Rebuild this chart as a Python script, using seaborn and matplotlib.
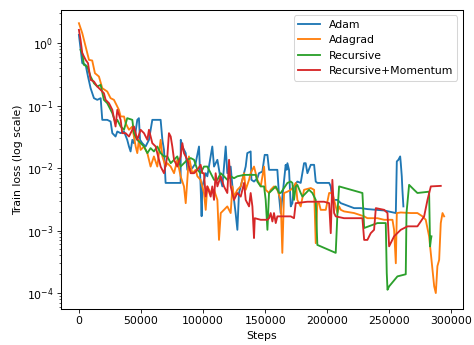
import matplotlib
matplotlib.use("Agg")
import matplotlib.pyplot as plt
import seaborn as sns
import pandas as pd

series_names = ["Adam", "Adagrad", "Recursive", "Recursive+Momentum"]

adam = [
    (0, 1.359), (2700, 0.479), (5400, 0.450), (7300, 0.293), (9400, 0.1905), (12100, 0.1318),
    (14800, 0.1240), (17500, 0.1318), (18800, 0.0593), (22800, 0.0593), (25500, 0.0558),
    (26900, 0.0363), (29500, 0.0321), (30900, 0.0386), (33600, 0.0363), (36300, 0.0386),
    (38900, 0.0284), (40300, 0.0222), (41600, 0.0185), (43000, 0.0284), (44300, 0.0251),
    (47000, 0.0593), (48300, 0.0631), (49200, 0.0284), (51000, 0.0251), (53700, 0.0222),
    (56400, 0.0284), (59100, 0.0593), (65800, 0.0593), (67200, 0.0284), (68500, 0.0196),
    (69800, 0.0058), (81900, 0.0058), (82000, 0.0284), (83300, 0.0222), (86000, 0.0174),
    (87300, 0.0094), (91300, 0.0100), (94000, 0.0120), (96700, 0.0222), (98000, 0.0051),
    (98800, 0.0017), (99400, 0.0051), (102100, 0.0083), (103400, 0.0074), (107400, 0.0222),
    (108800, 0.0106), (111500, 0.0136), (114200, 0.0065), (115500, 0.0051), (118200, 0.0222),
    (119500, 0.0083), (122200, 0.0106), (123600, 0.0051), (126200, 0.0019), (127600, 0.00103),
    (128900, 0.0040), (131600, 0.0065), (134300, 0.0106), (135600, 0.0174), (138300, 0.0185),
    (138900, 0.0065), (141000, 0.0061), (143700, 0.0069), (145000, 0.0083), (147700, 0.0088),
    (149600, 0.0163), (151800, 0.0163), (153100, 0.0094), (159800, 0.0094), (161200, 0.0035),
    (162500, 0.0019), (166500, 0.0113), (167300, 0.0094), (167900, 0.0120), (169200, 0.0094),
    (170600, 0.00244), (171900, 0.00275), (173200, 0.0051), (175900, 0.0061), (178600, 0.0058),
    (181300, 0.0120), (182600, 0.0120), (184000, 0.0083), (186700, 0.0113), (189400, 0.0113),
    (190700, 0.0061), (192000, 0.0058), (201500, 0.0058), (202800, 0.0051), (204100, 0.0031),
    (208200, 0.0031), (210900, 0.00275), (221600, 0.00229), (227000, 0.00229), (232300, 0.00221),
    (245800, 0.00210), (255200, 0.00191), (256000, 0.0128), (257300, 0.0136), (258700, 0.0154),
    (259200, 0.0120), (260000, 0.0074), (260500, 0.0045), (261300, 0.00244),
]

adagrad = [
    (0, 2.09), (2700, 1.445), (5400, 0.884), (8100, 0.541), (10700, 0.528), (12900, 0.331),
    (16100, 0.293), (18800, 0.1905), (22800, 0.1685), (25500, 0.1318), (28200, 0.1240),
    (32200, 0.0858), (33600, 0.0671), (36300, 0.0671), (37600, 0.0525), (40300, 0.0411),
    (43000, 0.0464), (44300, 0.0321), (45700, 0.0222), (47000, 0.0174), (48300, 0.0284),
    (49700, 0.0196), (52400, 0.0222), (55100, 0.0174), (57700, 0.0106), (60400, 0.0154),
    (63100, 0.0106), (65800, 0.0284), (67200, 0.0154), (69800, 0.0106), (71200, 0.0120),
    (73900, 0.0106), (76600, 0.0083), (79200, 0.0136), (81900, 0.0074), (84600, 0.0051),
    (86000, 0.00275), (87300, 0.0065), (88600, 0.0154), (91300, 0.0083), (94000, 0.0094),
    (95400, 0.0074), (98000, 0.0065), (100700, 0.0040), (102100, 0.00215), (103400, 0.0051),
    (106100, 0.0040), (108800, 0.0045), (111500, 0.0031), (112800, 0.00071), (114200, 0.00191),
    (116800, 0.00215), (119500, 0.00244), (122200, 0.00191), (123600, 0.0051), (124900, 0.0035),
    (127600, 0.0045), (130300, 0.0051), (133000, 0.0083), (134300, 0.0045), (137000, 0.0065),
    (138300, 0.0083), (141000, 0.0106), (143700, 0.0065), (146400, 0.0051), (149100, 0.0106),
    (150400, 0.0045), (153100, 0.0040), (154400, 0.0045), (157100, 0.0051), (159800, 0.0045),
    (162500, 0.0031), (163800, 0.00044), (165200, 0.0040), (167900, 0.0042), (170600, 0.0045),
    (173200, 0.0051), (174600, 0.0058), (175900, 0.0031), (178600, 0.00244), (181300, 0.0045),
    (186700, 0.0048), (189400, 0.0045), (190700, 0.00063), (192000, 0.00275), (193400, 0.00275),
    (194700, 0.00215), (198800, 0.00215), (201500, 0.0040), (204100, 0.0040), (206800, 0.00244),
    (208200, 0.00191), (209500, 0.00244), (210900, 0.00215), (213500, 0.00203), (221600, 0.00191),
    (229700, 0.00169), (232300, 0.00158), (240400, 0.00158), (245800, 0.00149), (252500, 0.00149),
    (253800, 0.00103), (255200, 0.00030), (256000, 0.00191), (259200, 0.00195), (267300, 0.00191),
    (272600, 0.00191), (276700, 0.00169), (279300, 0.00149), (282000, 0.00081), (286100, 0.000128),
    (287400, 0.0001), (288700, 0.00027), (290100, 0.00034), (291400, 0.00132), (292800, 0.00191),
    (294100, 0.00169),
]

recursive = [
    (1300, 0.782), (2700, 0.692), (4000, 0.450), (6700, 0.423), (9400, 0.293), (12100, 0.229),
    (14800, 0.2026), (17500, 0.2154), (20100, 0.1240), (22800, 0.1096), (26900, 0.0759),
    (29500, 0.0525), (30900, 0.0593), (33600, 0.0464), (36300, 0.0411), (38900, 0.0631),
    (43000, 0.0593), (44300, 0.0363), (47000, 0.0284), (49700, 0.0251), (52400, 0.0222),
    (55100, 0.0174), (57700, 0.0209), (60400, 0.0185), (63100, 0.0222), (65800, 0.0174),
    (68500, 0.0154), (71200, 0.0154), (73900, 0.0120), (76600, 0.0136), (79200, 0.0154),
    (81900, 0.0106), (84600, 0.0120), (87300, 0.0136), (90000, 0.0145), (92700, 0.0136),
    (95400, 0.0094), (98000, 0.0083), (100700, 0.0106), (103400, 0.0106), (106100, 0.0083),
    (108800, 0.0065), (111500, 0.0065), (114200, 0.0083), (116800, 0.0074), (119500, 0.0065),
    (122200, 0.0074), (124900, 0.0069), (127600, 0.0074), (133000, 0.0078), (142400, 0.0078),
    (143700, 0.0061), (146400, 0.0051), (149100, 0.0051), (150400, 0.0031), (151800, 0.00103),
    (153100, 0.0040), (155800, 0.0045), (158500, 0.0051), (161200, 0.0040), (162500, 0.0040),
    (167900, 0.0058), (170600, 0.0061), (171900, 0.0058), (173200, 0.0031), (174600, 0.0051),
    (175900, 0.0054), (178600, 0.0040), (180000, 0.0035), (185300, 0.0045), (188000, 0.0040),
    (190700, 0.0031), (192000, 0.00059), (206800, 0.00044), (208200, 0.00191), (209500, 0.0051),
    (228300, 0.0040), (229700, 0.00110), (240400, 0.00132), (247100, 0.00132), (247900, 0.00021),
    (248500, 0.000113), (249800, 0.000128), (256500, 0.000185), (263200, 0.00020),
    (263800, 0.00191), (265900, 0.0054), (269900, 0.0045), (272600, 0.0040), (282000, 0.0042),
    (282800, 0.00056), (283400, 0.00071), (283900, 0.00081),
]

recursive_momentum = [
    (0, 1.634), (1300, 1.13), (2700, 0.692), (5400, 0.541), (7300, 0.479), (9400, 0.259),
    (12100, 0.2435), (14800, 0.2026), (17500, 0.1792), (20100, 0.1585), (21500, 0.1240),
    (24200, 0.1096), (26900, 0.0858), (29500, 0.0464), (30900, 0.0858), (33600, 0.0593),
    (34900, 0.0363), (37600, 0.0363), (40300, 0.0321), (43000, 0.0411), (44300, 0.0464),
    (47000, 0.0284), (49700, 0.0411), (52400, 0.0363), (55100, 0.0284), (56400, 0.0411),
    (59100, 0.0251), (61800, 0.0222), (63100, 0.0174), (65800, 0.0106), (68500, 0.0083),
    (71200, 0.0154), (72500, 0.0363), (73900, 0.0321), (75200, 0.0222), (76600, 0.0136),
    (79200, 0.0106), (81900, 0.0154), (83300, 0.0251), (84600, 0.0174), (87300, 0.0136),
    (90000, 0.0083), (92700, 0.0083), (95400, 0.0094), (98000, 0.0113), (99400, 0.0083),
    (100700, 0.0083), (102100, 0.0035), (103400, 0.0051), (106100, 0.0035), (107400, 0.0051),
    (108800, 0.0031), (110100, 0.0083), (111500, 0.0051), (114200, 0.0074), (116800, 0.0051),
    (119500, 0.0040), (120900, 0.0136), (122200, 0.0051), (124900, 0.0031), (127600, 0.0040),
    (130300, 0.0035), (133000, 0.0058), (134300, 0.0031), (137000, 0.00244), (138300, 0.0040),
    (139700, 0.00244), (141000, 0.00076), (141600, 0.00158), (146400, 0.00149), (151800, 0.00149),
    (153100, 0.00158), (154400, 0.00191), (155800, 0.00140), (157100, 0.00191), (158500, 0.00132),
    (159800, 0.00169), (170600, 0.00169), (173200, 0.00158), (174600, 0.00275), (184000, 0.0029),
    (197400, 0.0029), (201500, 0.00275), (202800, 0.00091), (204100, 0.0065), (205500, 0.00191),
    (206800, 0.00169), (213500, 0.00158), (228300, 0.00158), (229700, 0.00071), (232300, 0.00071),
    (235000, 0.00091), (237700, 0.00103), (239100, 0.00229), (245800, 0.00215), (248500, 0.00191),
    (249800, 0.00056), (253800, 0.00081), (259200, 0.00103), (264600, 0.00117), (272600, 0.00117),
    (275300, 0.00140), (278000, 0.00169), (280700, 0.0031), (283400, 0.0051), (291400, 0.0052),
]

colors = ["#1f77b4", "#ff7f0e", "#2ca02c", "#d62728"]

rows = []
for name, pts in zip(series_names, [adam, adagrad, recursive, recursive_momentum]):
    for i, (s, l) in enumerate(pts):
        rows.append({"Steps": s, "loss": l, "Method": name, "order": i})
df = pd.DataFrame(rows)

plt.rcParams["font.family"] = ["DejaVu Sans"]
plt.rcParams["font.size"] = 10.6
plt.rcParams["axes.linewidth"] = 1.0
fig = plt.figure(figsize=(474 / 74, 345 / 74), dpi=74)
ax = fig.add_axes([0.128, 0.1035, 0.848, 0.8675])

sns.lineplot(data=df, x="Steps", y="loss", hue="Method", hue_order=series_names,
             palette=colors, estimator=None, sort=False, units="Method",
             linewidth=1.8, ax=ax)
ax.set_yscale("log")
ax.set_xlabel("Steps", fontsize=10.6)
ax.set_ylabel("Train loss (log scale)", fontsize=10.6)
ax.set_xticks([0, 50000, 100000, 150000, 200000, 250000, 300000])
ax.tick_params(labelsize=10.6)
ax.set_xlim(-14700, 309000)
ax.set_ylim(5.5e-5, 3.4)

handles, labels = ax.get_legend_handles_labels()
ax.legend(handles, labels, loc="upper right", fontsize=10.6)

fig.savefig("out.png", dpi=74)
